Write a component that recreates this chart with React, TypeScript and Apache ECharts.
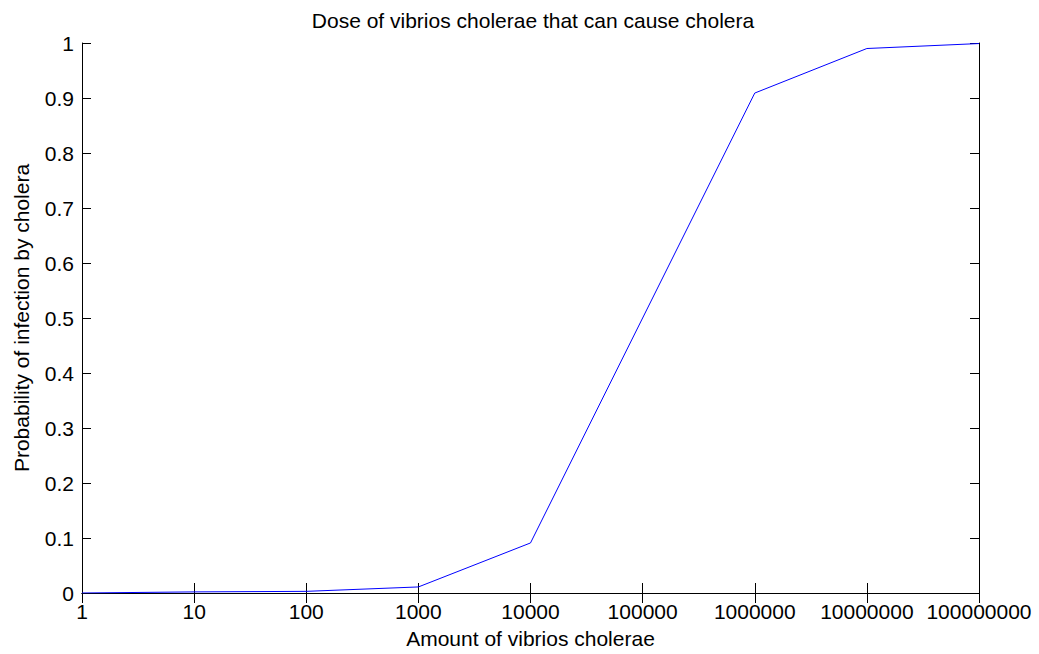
import React, { useEffect, useRef } from "react";
import * as echarts from "echarts";

const doses = ["1", "10", "100", "1000", "10000", "100000", "1000000", "10000000", "100000000"];
const probability = [0, 0.002, 0.003, 0.011, 0.091, 0.5, 0.909, 0.99, 0.999];
const yTicks = [0, 0.1, 0.2, 0.3, 0.4, 0.5, 0.6, 0.7, 0.8, 0.9, 1];

const FONT = "Liberation Sans";
const FS = 21;

export default function App() {
  const ref = useRef<HTMLDivElement>(null);
  useEffect(() => {
    document.body.style.margin = "0";
    const chart = echarts.init(ref.current!, null, { renderer: "svg" });
    const axisLine = { show: true, lineStyle: { color: "#000", width: 1 } };
    chart.setOption({
      animation: false,
      backgroundColor: "#fff",
      title: {
        text: "Dose of vibrios cholerae that can cause cholera",
        left: 528,
        textAlign: "center",
        top: 5,
        textStyle: { fontFamily: FONT, fontSize: FS, fontWeight: "normal", color: "#000" },
      },
      grid: { left: 82, right: 60, top: 43, bottom: 61, containLabel: false },
      xAxis: [
        {
          type: "category",
          data: doses,
          boundaryGap: false,
          position: "bottom",
          name: "Amount of vibrios cholerae",
          nameLocation: "middle",
          nameGap: 35,
          nameTextStyle: { fontFamily: FONT, fontSize: FS, color: "#000" },
          axisLine,
          axisTick: { show: true, inside: true, length: 10, lineStyle: { color: "#000" } },
          axisLabel: { fontFamily: FONT, fontSize: FS, color: "#000", margin: 8, interval: 0 },
          splitLine: { show: false },
        },
        {
          type: "category",
          data: doses,
          boundaryGap: false,
          position: "top",
          axisLine,
          axisTick: { show: true, inside: true, length: 10, lineStyle: { color: "#000" } },
          axisLabel: { show: false },
          splitLine: { show: false },
        },
      ],
      yAxis: [
        {
          type: "value",
          min: yTicks[0],
          max: yTicks[yTicks.length - 1],
          interval: 0.1,
          position: "left",
          name: "Probability of infection by cholera",
          nameLocation: "middle",
          nameGap: 50,
          nameTextStyle: { fontFamily: FONT, fontSize: FS, color: "#000" },
          axisLine,
          axisTick: { show: true, inside: true, length: 9, lineStyle: { color: "#000" } },
          axisLabel: {
            fontFamily: FONT,
            fontSize: FS,
            color: "#000",
            margin: 8,
            formatter: (v: number) => String(Math.round(v * 10) / 10),
          },
          splitLine: { show: false },
        },
        {
          type: "value",
          min: yTicks[0],
          max: yTicks[yTicks.length - 1],
          interval: 0.1,
          position: "right",
          axisLine,
          axisTick: { show: true, inside: true, length: 9, lineStyle: { color: "#000" } },
          axisLabel: { show: false },
          splitLine: { show: false },
        },
      ],
      series: [
        {
          type: "line",
          data: probability,
          xAxisIndex: 0,
          yAxisIndex: 0,
          showSymbol: false,
          symbol: "none",
          lineStyle: { color: "#0000ff", width: 1 },
          z: 1,
        },
      ],
    });
    return () => chart.dispose();
  }, []);
  return (
    <div
      ref={ref}
      style={{ position: "fixed", left: 0, top: 0, width: 1039, height: 654 }}
    />
  );
}
